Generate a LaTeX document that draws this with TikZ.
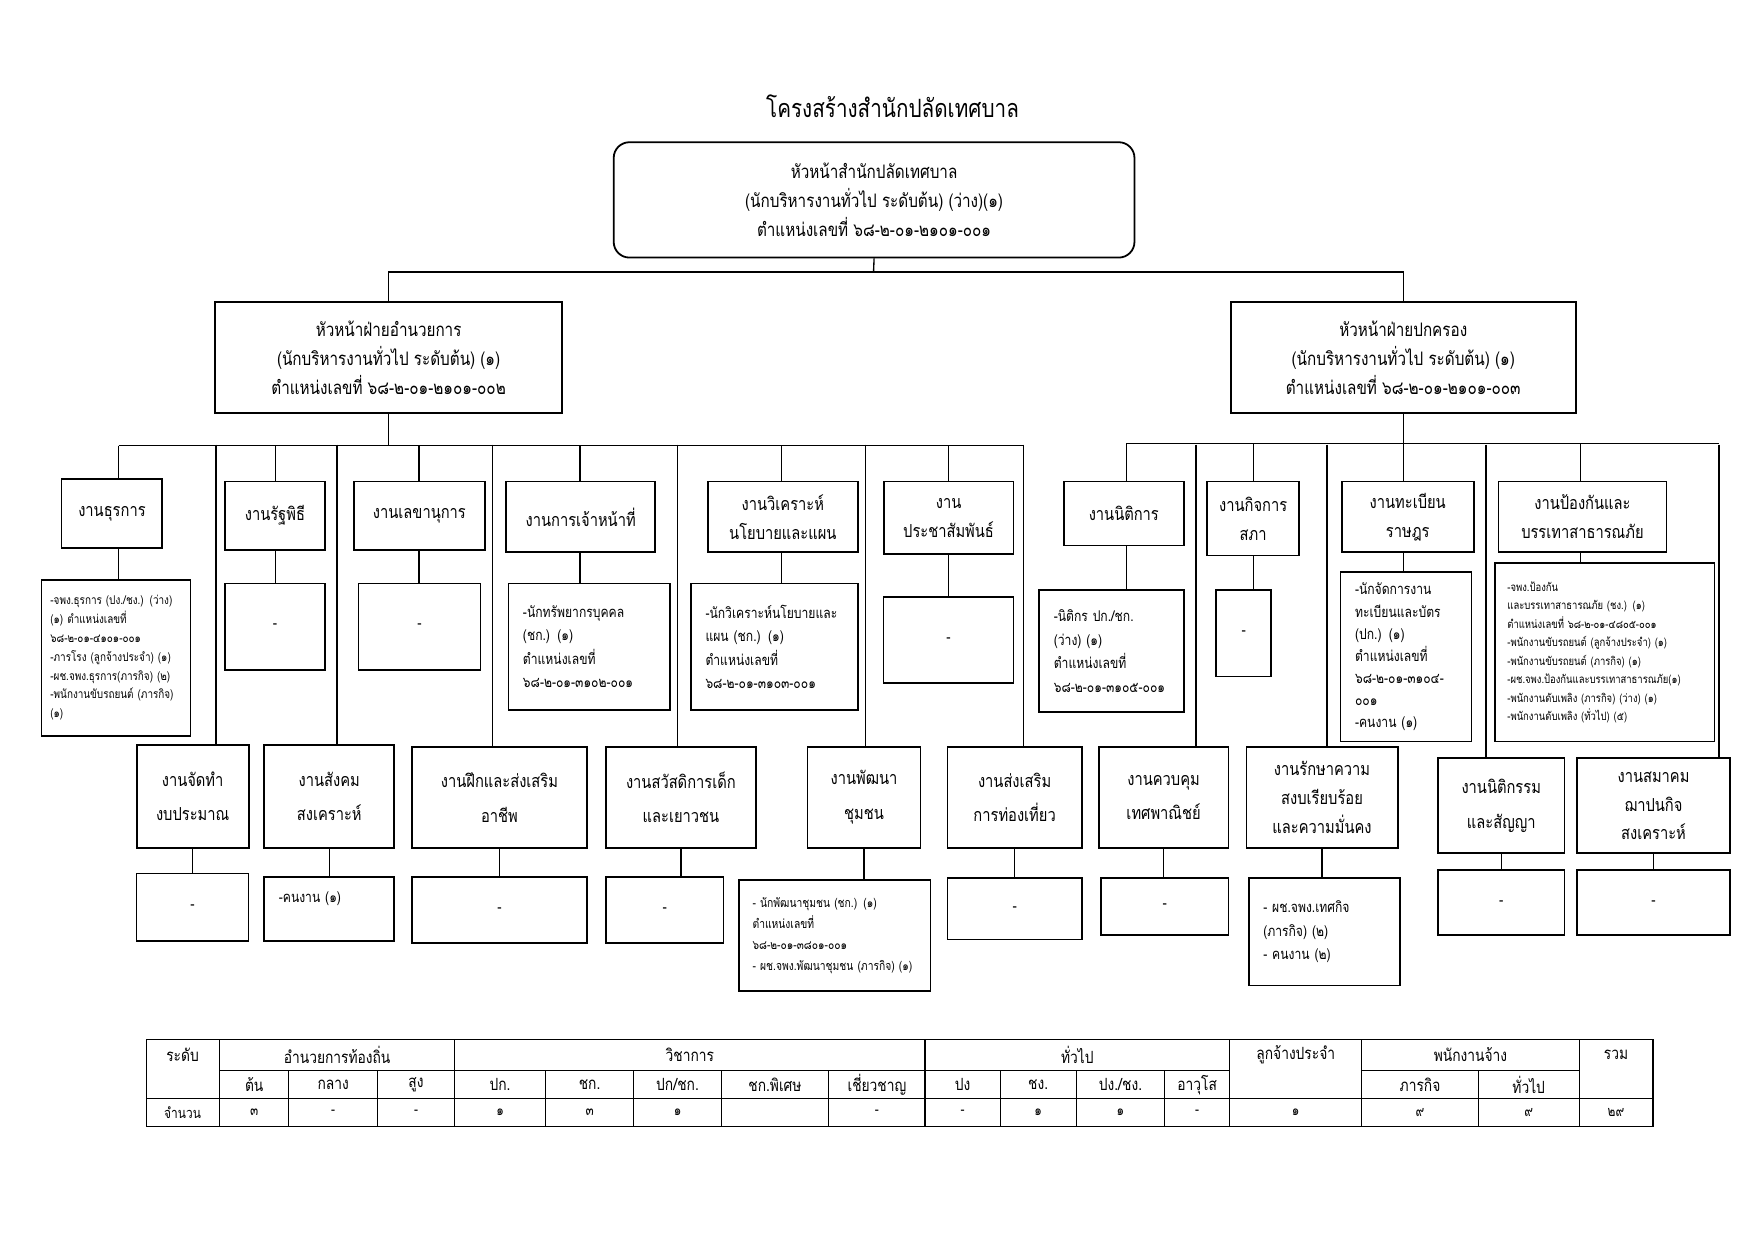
\documentclass[tikz,border=0pt]{standalone}
\usepackage{fontspec}
\newfontfamily\thaifont[Script=Thai,FakeStretch=0.82]{Loma}

\begin{document}
\begin{tikzpicture}[x=1pt, y=-1pt, every node/.style={font=\thaifont},
	headbox/.style={draw, line width=1.6pt, inner sep=0pt, align=center, font=\thaifont\fontsize{16.6}{26}\selectfont},
	secbox/.style={draw, line width=1.6pt, inner sep=0pt, align=center, font=\thaifont\fontsize{16}{26}\selectfont},
	lowbox/.style={secbox, font=\thaifont\fontsize{16}{31}\selectfont},
	staffbox/.style={draw, line width=1.5pt, inner xsep=13pt, inner ysep=0pt, align=left, font=\thaifont\fontsize{13.2}{21}\selectfont},
	emptybox/.style={draw, line width=1.5pt, inner sep=0pt, font=\thaifont\fontsize{14}{16}\selectfont},
	link/.style={line width=1.2pt},
	tabline/.style={line width=1pt},
	tabtext/.style={font=\thaifont\fontsize{15}{17}\selectfont}]
	\path[fill=white, use as bounding box] (0,0) rectangle (1568,1108);

	\node[font=\thaifont\fontsize{22.5}{26}\selectfont] (title) at (797,95) {โครงสร้างสำนักปลัดเทศบาล};
	\node[headbox, rounded corners=14pt, minimum width=465pt, minimum height=103pt] (top) at (780.5,178.5)
		{หัวหน้าสำนักปลัดเทศบาล\\(นักบริหารงานทั่วไป ระดับต้น) (ว่าง)(๑)\\ตำแหน่งเลขที่ ๖๘-๒-๐๑-๒๑๐๑-๐๐๑};
	\node[headbox, minimum width=310pt, minimum height=99pt] (headL) at (347,319.5)
		{หัวหน้าฝ่ายอำนวยการ\\(นักบริหารงานทั่วไป ระดับต้น) (๑)\\ตำแหน่งเลขที่ ๖๘-๒-๐๑-๒๑๐๑-๐๐๒};
	\node[headbox, minimum width=308pt, minimum height=99pt] (headR) at (1253,319.5)
		{หัวหน้าฝ่ายปกครอง\\(นักบริหารงานทั่วไป ระดับต้น) (๑)\\ตำแหน่งเลขที่ ๖๘-๒-๐๑-๒๑๐๑-๐๐๓};

	% ฝ่ายอำนวยการ
	\node[secbox, minimum width=90pt, minimum height=61pt] (thurakan) at (100,458.5) {งานธุรการ};
	\node[secbox, minimum width=89pt, minimum height=61pt] (ratpithi) at (245.5,460.5) {งานรัฐพิธี};
	\node[secbox, minimum width=117pt, minimum height=61pt] (lekha) at (374.5,460.5) {งานเลขานุการ};
	\node[secbox, minimum width=133pt, minimum height=63pt] (jaonathi) at (518.5,461.5) {งานการเจ้าหน้าที่};
	\node[secbox, minimum width=134pt, minimum height=63pt] (wikhro) at (699,461.5) {งานวิเคราะห์\\นโยบายและแผน};
	\node[secbox, minimum width=116pt, minimum height=65pt] (prachasam) at (847,462.5) {งาน\\ประชาสัมพันธ์};

	\node[staffbox, text width=117pt, inner xsep=8pt, minimum height=139pt, font=\thaifont\fontsize{10.8}{16.8}\selectfont] (thurakan-s) at (103.5,587.5)
		{-จพง.ธุรการ (ปง./ชง.) (ว่าง)\\(๑) ตำแหน่งเลขที่\\๖๘-๒-๐๑-๔๑๐๑-๐๐๑\\-ภารโรง (ลูกจ้างประจำ) (๑)\\-ผช.จพง.ธุรการ(ภารกิจ) (๒)\\-พนักงานขับรถยนต์ (ภารกิจ)\\(๑)};
	\node[emptybox, minimum width=89pt, minimum height=77pt] (ratpithi-s) at (245.5,559.5) {-};
	\node[emptybox, minimum width=109pt, minimum height=77pt] (lekha-s) at (374.5,559.5) {-};
	\node[staffbox, text width=118pt, minimum height=113pt] (jaonathi-s) at (526,577.5)
		{-นักทรัพยากรบุคคล\\(ชก.) (๑)\\ตำแหน่งเลขที่\\๖๘-๒-๐๑-๓๑๐๒-๐๐๑};
	\node[staffbox, text width=123pt, minimum height=113pt] (wikhro-s) at (691.5,577.5)
		{-นักวิเคราะห์นโยบายและ\\แผน (ชก.) (๑)\\ตำแหน่งเลขที่\\๖๘-๒-๐๑-๓๑๐๓-๐๐๑};
	\node[emptybox, minimum width=116pt, minimum height=77pt] (prachasam-s) at (847,571.5) {-};

	\node[lowbox, minimum width=100pt, minimum height=92pt] (jattham) at (172,711) {งานจัดทำ\\งบประมาณ};
	\node[lowbox, minimum width=116pt, minimum height=92pt] (sangkhom) at (294,711) {งานสังคม\\สงเคราะห์};
	\node[lowbox, minimum width=156pt, minimum height=90pt] (fuek) at (446,712) {งานฝึกและส่งเสริม\\อาชีพ};
	\node[lowbox, minimum width=134pt, minimum height=90pt] (sawat) at (608,712) {งานสวัสดิการเด็ก\\และเยาวชน};
	\node[lowbox, minimum width=101pt, minimum height=90pt] (phatthana) at (771.5,712) {งานพัฒนา\\ชุมชน};
	\node[lowbox, minimum width=120pt, minimum height=90pt] (thongthiao) at (906,712) {งานส่งเสริม\\การท่องเที่ยว};

	\node[emptybox, minimum width=100pt, minimum height=60pt] (jattham-s) at (172,810) {-};
	\node[staffbox, text width=90pt, minimum height=57pt] (sangkhom-s) at (294,811.5) {-คนงาน (๑)\\\mbox{}};
	\node[emptybox, minimum width=156pt, minimum height=59pt] (fuek-s) at (446,812.5) {-};
	\node[emptybox, minimum width=105pt, minimum height=59pt] (sawat-s) at (593.5,812.5) {-};
	\node[staffbox, text width=147pt, minimum height=99pt, inner xsep=12pt, font=\thaifont\fontsize{11.2}{19}\selectfont] (phatthana-s) at (745.5,835.5)
		{- นักพัฒนาชุมชน (ชก.) (๑)\\ตำแหน่งเลขที่\\๖๘-๒-๐๑-๓๘๐๑-๐๐๑\\- ผช.จพง.พัฒนาชุมชน (ภารกิจ) (๑)};
	\node[emptybox, minimum width=120pt, minimum height=55pt] (thongthiao-s) at (906,811.5) {-};

	% ฝ่ายปกครอง
	\node[secbox, minimum width=107pt, minimum height=57pt] (nitikan) at (1003.5,458.5) {งานนิติการ};
	\node[secbox, minimum width=82pt, minimum height=66pt] (kitsapha) at (1119,463) {งานกิจการ\\สภา};
	\node[secbox, minimum width=118pt, minimum height=63pt] (thabian) at (1257,461.5) {งานทะเบียน\\ราษฎร};
	\node[secbox, minimum width=150pt, minimum height=63pt] (pongkan) at (1413,461.5) {งานป้องกันและ\\บรรเทาสาธารณภัย};

	\node[staffbox, text width=103pt, minimum height=109pt] (nitikan-s) at (992.5,581.5)
		{-นิติกร ปก./ชก.\\(ว่าง) (๑)\\ตำแหน่งเลขที่\\๖๘-๒-๐๑-๓๑๐๕-๐๐๑};
	\node[emptybox, minimum width=49pt, minimum height=77pt] (kitsapha-s) at (1110.5,565.5) {-};
	\node[staffbox, text width=91pt, minimum height=151pt, font=\thaifont\fontsize{13.2}{19.7}\selectfont] (thabian-s) at (1255.5,586.5)
		{-นักจัดการงาน\\ทะเบียนและบัตร\\(ปก.) (๑)\\ตำแหน่งเลขที่\\๖๘-๒-๐๑-๓๑๐๔-\\๐๐๑\\-คนงาน (๑)};
	\node[staffbox, text width=174pt, inner xsep=11pt, minimum height=159pt, font=\thaifont\fontsize{10.3}{16.5}\selectfont] (pongkan-s) at (1433,582.5)
		{-จพง.ป้องกัน\\และบรรเทาสาธารณภัย (ชง.) (๑)\\ตำแหน่งเลขที่ ๖๘-๒-๐๑-๔๘๐๕-๐๐๑\\-พนักงานขับรถยนต์ (ลูกจ้างประจำ) (๑)\\-พนักงานขับรถยนต์ (ภารกิจ) (๑)\\-ผช.จพง.ป้องกันและบรรเทาสาธารณภัย(๑)\\-พนักงานดับเพลิง (ภารกิจ) (ว่าง) (๑)\\-พนักงานดับเพลิง (ทั่วไป) (๕)};

	\node[lowbox, minimum width=116pt, minimum height=90pt] (khuapkhum) at (1039,712) {งานควบคุม\\เทศพาณิชย์};
	\node[lowbox, minimum width=135pt, minimum height=90pt, font=\thaifont\fontsize{16}{25.5}\selectfont] (raksa) at (1180.5,712) {งานรักษาความ\\สงบเรียบร้อย\\และความมั่นคง};
	\node[lowbox, minimum width=113pt, minimum height=85pt] (nitikam) at (1340.5,719.5) {งานนิติกรรม\\และสัญญา};
	\node[lowbox, minimum width=137pt, minimum height=85pt, font=\thaifont\fontsize{16}{25.5}\selectfont] (samakom) at (1476.5,719.5) {งานสมาคม\\ฌาปนกิจ\\สงเคราะห์};

	\node[emptybox, minimum width=114pt, minimum height=51pt] (khuapkhum-s) at (1040,809.5) {-};
	\node[staffbox, text width=109pt, minimum height=96pt] (raksa-s) at (1182.5,832)
		{- ผช.จพง.เทศกิจ\\(ภารกิจ) (๒)\\- คนงาน (๒)};
	\node[emptybox, minimum width=113pt, minimum height=58pt] (nitikam-s) at (1340.5,806) {-};
	\node[emptybox, minimum width=137pt, minimum height=58pt] (samakom-s) at (1476.5,806) {-};

	% สายบังคับบัญชา
	\coordinate (jt) at (780,243);
	\draw[link] (top.south) -- (jt);
	\draw[link] (headL.north) |- (jt) -| (headR.north);

	\coordinate (busL1) at (106,398);
	\coordinate (busL2) at (914,398);
	\draw[link] (busL1) -- (busL2);
	\draw[link] (headL.south) -- (headL.south |- busL1);
	\coordinate (busR1) at (1006,396);
	\coordinate (busR2) at (1535,396);
	\draw[link] (busR1) -- (busR2);
	\draw[link] (headR.south) -- (headR.south |- busR1);

	\foreach \x/\n in {106/thurakan, 246/ratpithi, 374/lekha, 518/jaonathi, 698/wikhro, 847/prachasam} {
		\coordinate (tap) at (\x,398);
		\draw[link] (tap) -- (tap |- \n.north);
		\draw[link] (tap |- \n.south) -- (tap |- \n-s.north);
	}
	\foreach \x/\n in {1006/nitikan, 1119/kitsapha, 1253/thabian, 1411/pongkan} {
		\coordinate (tap) at (\x,396);
		\draw[link] (tap) -- (tap |- \n.north);
		\draw[link] (tap |- \n.south) -- (tap |- \n-s.north);
	}
	\foreach \x/\n in {193/jattham, 301/sangkhom, 440/fuek, 605/sawat, 773/phatthana, 914/thongthiao,
		1068/khuapkhum, 1185/raksa, 1327/nitikam, 1535/samakom} {
		\coordinate (tap) at (\x,397);
		\draw[link] (tap) -- (tap |- \n.north);
		\draw[link] (\n.south) -- (\n.south |- \n-s.north);
	}

	% ตารางสรุปอัตรากำลัง
	\draw[tabline] (131,928) rectangle (1476,1006);
	\draw[tabline] (131,981) -- (1476,981);
	\draw[tabline] (196,956) -- (1098,956);
	\draw[tabline] (1216,956) -- (1410,956);
	\foreach \x in {196,406,826,1098,1216,1410}
		\draw[tabline] (\x,928) -- (\x,1006);
	\foreach \x in {258,337,487,566,644,740,893,961,1040,1320}
		\draw[tabline] (\x,956) -- (\x,1006);

	\foreach \x/\t [count=\i] in {163/ระดับ, 301/อำนวยการท้องถิ่น, 616/วิชาการ, 962/ทั่วไป, 1157/ลูกจ้างประจำ, 1313/พนักงานจ้าง, 1443/รวม}
		\node[tabtext] (hd\i) at (\x,942) {\t};
	\foreach \x/\t [count=\i] in {227/ต้น, 297.5/กลาง, 371.5/สูง, 446.5/ปก., 526.5/ชก., 605/{ปก/ชก.}, 692/ชก.พิเศษ, 783/เชี่ยวชาญ,
		859.5/ปง, 927/ชง., 1000.5/{ปง./ชง.}, 1069/อาวุโส, 1268/ภารกิจ, 1365/ทั่วไป}
		\node[tabtext] (sub\i) at (\x,968.5) {\t};
	\foreach \x/\t [count=\i] in {163/จำนวน, 227/๓, 297.5/-, 371.5/-, 446.5/๑, 526.5/๓, 605/๑, 783/-,
		859.5/-, 927/๑, 1000.5/๑, 1069/-, 1157/๑, 1268/๙, 1365/๙, 1443/๒๙}
		\node[tabtext, font=\thaifont\fontsize{13}{15}\selectfont] (num\i) at (\x,993.5) {\t};
\end{tikzpicture}
\end{document}
